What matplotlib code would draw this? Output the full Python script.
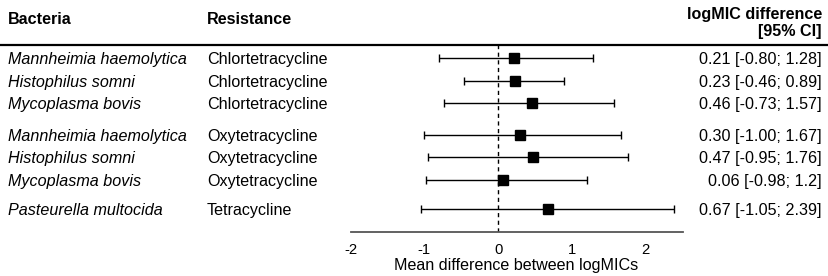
import matplotlib
matplotlib.use("Agg")
import matplotlib.pyplot as plt
from matplotlib.transforms import blended_transform_factory

plt.rcParams['font.family'] = ['Liberation Sans', 'DejaVu Sans']

bacteria = ["Mannheimia haemolytica", "Histophilus somni", "Mycoplasma bovis",
            "Mannheimia haemolytica", "Histophilus somni", "Mycoplasma bovis",
            "Pasteurella multocida"]
resistance = ["Chlortetracycline", "Chlortetracycline", "Chlortetracycline",
              "Oxytetracycline", "Oxytetracycline", "Oxytetracycline",
              "Tetracycline"]
means = [0.21, 0.23, 0.46, 0.30, 0.47, 0.06, 0.67]
lower = [-0.80, -0.46, -0.73, -1.00, -0.95, -0.98, -1.05]
upper = [1.28, 0.89, 1.57, 1.67, 1.76, 1.2, 2.39]
ci_labels = ["0.21 [-0.80; 1.28]", "0.23 [-0.46; 0.89]", "0.46 [-0.73; 1.57]",
             "0.30 [-1.00; 1.67]", "0.47 [-0.95; 1.76]", "0.06 [-0.98; 1.2]",
             "0.67 [-1.05; 2.39]"]
rows = [0, 1, 2, 3.4, 4.4, 5.4, 6.7]
xticks = [-2, -1, 0, 1, 2]

W, H = 829, 276
fig = plt.figure(figsize=(W / 100, H / 100), dpi=100)

def fx(px):
    return px / W

def fy(py):
    return 1 - py / H

ax_left, ax_right, ax_top, ax_bot = 350.6, 682.5, 45, 232
ax = fig.add_axes([fx(ax_left), fy(ax_bot), fx(ax_right - ax_left), (ax_bot - ax_top) / H])

fs = 11.6
xerr = [[m - l for m, l in zip(means, lower)], [u - m for m, u in zip(means, upper)]]
ax.errorbar(means, rows, xerr=xerr, fmt='s', color='black', ecolor='black',
            elinewidth=1.0, capsize=3, capthick=1.0, markersize=7, zorder=3)
ax.axvline(0, color='black', linestyle=(0, (3, 2.5)), linewidth=1.0, zorder=1)

ax.set_xlim(-2, 2.5)
ax.set_ylim(7.72, -0.58)
ax.set_xticks(xticks)
ax.set_xticklabels([str(t) for t in xticks], fontsize=fs - 1)
ax.tick_params(axis='x', length=0, pad=8)
ax.set_yticks([])
for s in ['top', 'left', 'right']:
    ax.spines[s].set_visible(False)
ax.spines['bottom'].set_color('#555555')
ax.spines['bottom'].set_linewidth(1.3)
ax.patch.set_alpha(0)
ax.set_xlabel("Mean difference between logMICs", fontsize=fs, labelpad=0.5)

trans = blended_transform_factory(fig.transFigure, ax.transData)
for r, b, res, c in zip(rows, bacteria, resistance, ci_labels):
    ax.text(fx(8), r, b, transform=trans, fontsize=fs, style='italic',
            va='center_baseline', ha='left', clip_on=False)
    ax.text(fx(207), r, res, transform=trans, fontsize=fs,
            va='center_baseline', ha='left', clip_on=False)
    ax.text(fx(822), r, c, transform=trans, fontsize=fs,
            va='center_baseline', ha='right', clip_on=False)

fig.text(fx(8), fy(20), "Bacteria", fontsize=fs, weight='bold', va='center', ha='left')
fig.text(fx(207), fy(20), "Resistance", fontsize=fs, weight='bold', va='center', ha='left')
fig.text(fx(822), fy(14), "logMIC difference", fontsize=fs, weight='bold', va='center', ha='right')
fig.text(fx(822), fy(31), "[95% CI]", fontsize=fs, weight='bold', va='center', ha='right')

fig.add_artist(plt.Line2D([0, 1], [fy(45), fy(45)], transform=fig.transFigure,
                          color='black', linewidth=1.6))

fig.savefig("out.png", dpi=100)
